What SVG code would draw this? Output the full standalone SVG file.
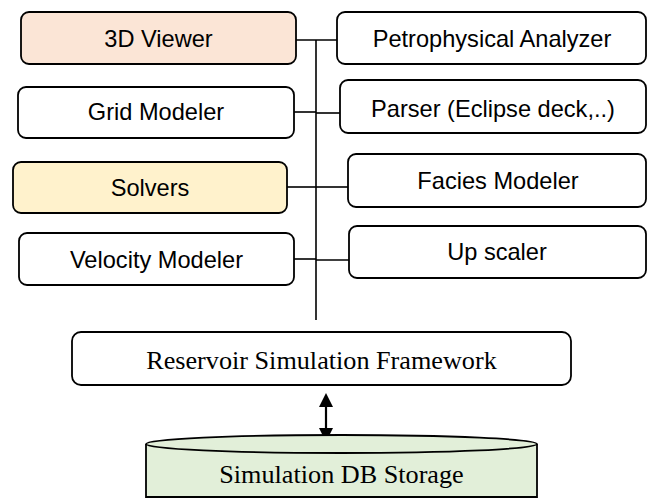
<svg xmlns="http://www.w3.org/2000/svg" width="648" height="499" viewBox="0 0 648 499">
<style>
.box{stroke:#000;stroke-width:1.8;fill:#fff}
.lbl{font-family:"Liberation Sans",Arial,sans-serif;font-size:23.6px;fill:#000;text-anchor:middle}
.ser{font-family:"Liberation Serif","Times New Roman",serif;font-size:26.2px;fill:#000;text-anchor:middle}
.ln{stroke:#000;stroke-width:1.6;fill:none}
.head{fill:#000;stroke:none}
</style>
<rect width="648" height="499" fill="#fff"/>
<g id="connectors">
<line class="ln" x1="316" y1="40" x2="316" y2="320"/>
<line class="ln" x1="296" y1="40" x2="337" y2="40"/>
<line class="ln" x1="294" y1="112" x2="316" y2="112"/>
<line class="ln" x1="287" y1="187" x2="316" y2="187"/>
<line class="ln" x1="294" y1="259" x2="316" y2="259"/>
<line class="ln" x1="316" y1="113" x2="340" y2="113"/>
<line class="ln" x1="316" y1="187" x2="348" y2="187"/>
<line class="ln" x1="316" y1="260" x2="349" y2="260"/>
<line x1="326" y1="405" x2="326" y2="430" stroke="#000" stroke-width="2.2"/>
<polygon class="head" points="326,393 333,407 319,407"/>
<polygon class="head" points="326,442 333,428 319,428"/>
</g>
<g id="viewer3d"><rect class="box" x="21" y="12" width="275" height="52" rx="8" style="fill:#fbe5d6"/><text class="lbl" x="158.5" y="46.5">3D Viewer</text></g>
<g id="gridModeler"><rect class="box" x="18" y="87" width="276" height="51" rx="8"/><text class="lbl" x="156" y="120">Grid Modeler</text></g>
<g id="solvers"><rect class="box" x="13" y="162" width="274" height="51" rx="8" style="fill:#fff2cc"/><text class="lbl" x="150" y="195.5">Solvers</text></g>
<g id="velocityModeler"><rect class="box" x="19" y="233" width="275" height="52" rx="8"/><text class="lbl" x="156.5" y="268">Velocity Modeler</text></g>
<g id="petrophysical"><rect class="box" x="337" y="12" width="309" height="52" rx="8"/><text class="lbl" x="492" y="46.5">Petrophysical Analyzer</text></g>
<g id="parser"><rect class="box" x="340" y="80" width="306" height="53" rx="8"/><text class="lbl" x="493" y="117">Parser (Eclipse deck,..)</text></g>
<g id="facies"><rect class="box" x="348" y="154" width="298" height="53" rx="8"/><text class="lbl" x="498" y="188.5">Facies Modeler</text></g>
<g id="upscaler"><rect class="box" x="349" y="226" width="297" height="52" rx="8"/><text class="lbl" x="497" y="260">Up scaler</text></g>
<g id="framework"><rect class="box" x="72" y="332" width="499" height="53" rx="9"/><text class="ser" x="321.5" y="369">Reservoir Simulation Framework</text></g>
<g id="storage">
<path d="M146,444 L146,497 L537,497 L537,444" fill="#e2efd9" stroke="#000" stroke-width="1.8"/>
<ellipse cx="341.5" cy="444" rx="195.5" ry="9" fill="#e2efd9" stroke="#000" stroke-width="1.8"/>
<text class="ser" x="341.5" y="483">Simulation DB Storage</text>
</g>
</svg>
